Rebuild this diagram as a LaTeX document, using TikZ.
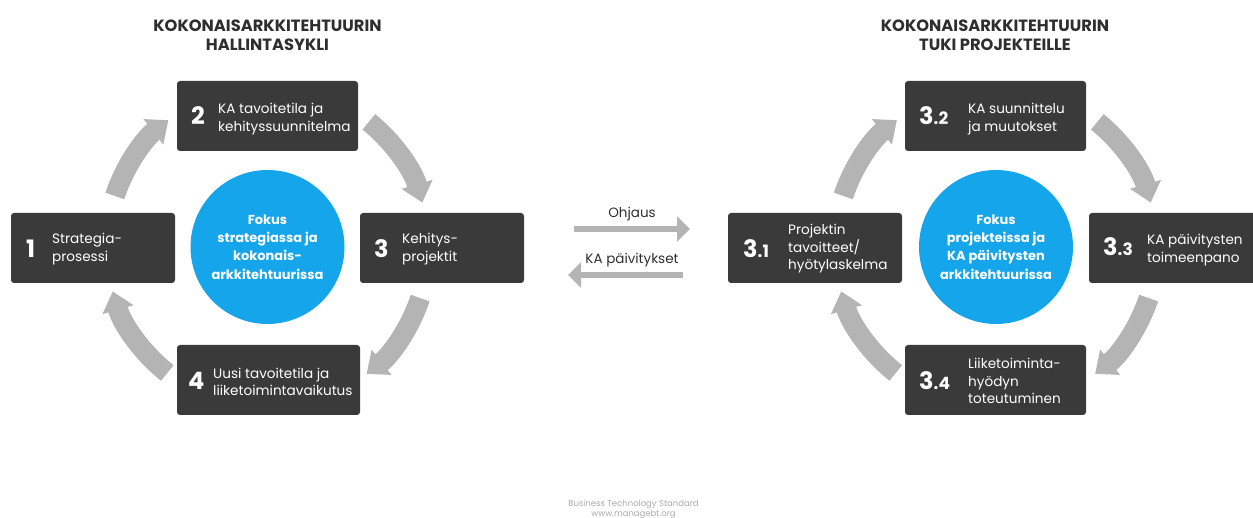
\documentclass[tikz,border=0pt]{standalone}
\usepackage{fontspec}
\setmainfont{Poppins}
\usetikzlibrary{arrows.meta,calc}

\definecolor{boxgray}{HTML}{3A3A3A}
\definecolor{focusblue}{HTML}{15A5EB}
\definecolor{cyclegray}{HTML}{B4B4B4}
\definecolor{titlegray}{HTML}{2E2E2E}
\definecolor{footgray}{HTML}{ABABAB}

\begin{document}
\begin{tikzpicture}[x=1pt,y=-1pt,
  stepbox/.style={fill=boxgray, rounded corners=3pt, minimum height=70pt,
    inner sep=0pt, outer sep=0pt},
  numtext/.style={text=white, font=\bfseries\fontsize{24}{24}\selectfont,
    inner sep=0pt, anchor=base west},
  boxtext/.style={text=white, font=\fontsize{13.6}{17.5}\selectfont,
    align=left, anchor=west, inner sep=0pt},
  focusdisc/.style={circle, fill=focusblue, minimum size=154pt, inner sep=0pt},
  focustext/.style={text=white, font=\bfseries\fontsize{13}{18.3}\selectfont,
    align=center, inner sep=0pt},
  heading/.style={text=titlegray, font=\bfseries\fontsize{16.3}{19}\selectfont,
    align=center, inner sep=0pt},
  cyclearrow/.style={draw=cyclegray, line width=20pt,
    -{Triangle[width=31pt,length=19pt]}},
  flowarrow/.style={draw=cyclegray, line width=6pt,
    -{Triangle[width=25pt,length=13pt]}},
  flowlabel/.style={text=titlegray, font=\fontsize{13.5}{13.5}\selectfont,
    inner sep=0pt},
  footer/.style={text=footgray, font=\fontsize{8.5}{10}\selectfont,
    align=center, inner sep=0pt}
]
\newcommand{\subnum}[1]{{\fontsize{17}{17}\selectfont #1}}

\useasboundingbox (0,0) rectangle (1253,518);
\clip (0,0) rectangle (1253,518);

% ---------- governance cycle ----------
\node[heading] (titleL) at (267.5,35) {KOKONAISARKKITEHTUURIN\\HALLINTASYKLI};

\node[focusdisc] (fcL) at (267.5,247) {};
\node[focustext] (fcLt) at (267.5,247)
  {Fokus\\strategiassa ja\\kokonais-\\arkkitehtuurissa};

\node[stepbox, minimum width=164pt] (b1) at (93,248) {};
\node[stepbox, minimum width=181pt] (b2) at (267.5,116) {};
\node[stepbox, minimum width=164pt] (b3) at (442,248) {};
\node[stepbox, minimum width=183pt] (b4) at (268.5,380) {};

\node[numtext] (n1) at (26,258) {1};
\node[numtext] (n2) at (191,125) {2};
\node[numtext] (n3) at (374,258) {3};
\node[numtext] (n4) at (188,390) {4};

\node[boxtext] (t1) at (52,249) {Strategia-\\prosessi};
\node[boxtext] (t2) at (218,119) {KA tavoitetila ja\\kehityssuunnitelma};
\node[boxtext] (t3) at (402,249) {Kehitys-\\projektit};
\node[boxtext] (t4) at (213,382) {Uusi tavoitetila ja\\liiketoimintavaikutus};

% arrows running round the focus disc, from step to step
\foreach \s/\e in {161.5/128, 51/16, -18.5/-52, 231.5/196}
  \draw[cyclearrow] ($(fcL.center)+(\s:161pt)$)
    arc[start angle=\s, end angle=\e, radius=161pt];

% ---------- project support cycle ----------
\node[heading] (titleR) at (995,35) {KOKONAISARKKITEHTUURIN\\TUKI PROJEKTEILLE};

\node[focusdisc] (fcR) at (996,247) {};
\node[focustext] (fcRt) at (996,247)
  {Fokus\\projekteissa ja\\KA päivitysten\\arkkitehtuurissa};

\node[stepbox, minimum width=174pt] (r1) at (815,248) {};
\node[stepbox, minimum width=181pt] (r2) at (995.5,116) {};
\node[stepbox, minimum width=174pt] (r3) at (1176,248) {};
\node[stepbox, minimum width=181pt] (r4) at (995.5,380) {};

\node[numtext] (m1) at (743,258) {3\subnum{.1}};
\node[numtext] (m2) at (919,125) {3\subnum{.2}};
\node[numtext] (m3) at (1103,256) {3\subnum{.3}};
\node[numtext] (m4) at (919,390) {3\subnum{.4}};

\node[boxtext] (u1) at (788,249) {Projektin\\tavoitteet/\\hyötylaskelma};
\node[boxtext] (u2) at (968,119) {KA suunnittelu\\ja muutokset};
\node[boxtext] (u3) at (1147,250) {KA päivitysten\\toimeenpano};
\node[boxtext] (u4) at (968,381) {Liiketoiminta-\\hyödyn\\toteutuminen};

\foreach \s/\e in {161.5/128, 51/16, -18.5/-52, 231.5/196}
  \draw[cyclearrow] ($(fcR.center)+(\s:161pt)$)
    arc[start angle=\s, end angle=\e, radius=161pt];

% ---------- links between the two cycles ----------
\coordinate (ohFrom) at (574,229);
\coordinate (ohTo) at (690,229);
\coordinate (kaFrom) at (683,275);
\coordinate (kaTo) at (568,275);
\draw[flowarrow] (ohFrom) -- (ohTo);
\draw[flowarrow] (kaFrom) -- (kaTo);
\node[flowlabel] (ohLab) at (632,214) {Ohjaus};
\node[flowlabel] (kaLab) at (632,260) {KA päivitykset};

% ---------- source line ----------
\node[footer] (src) at (633.5,509) {Business Technology Standard\\www.managebt.org};
\end{tikzpicture}
\end{document}
